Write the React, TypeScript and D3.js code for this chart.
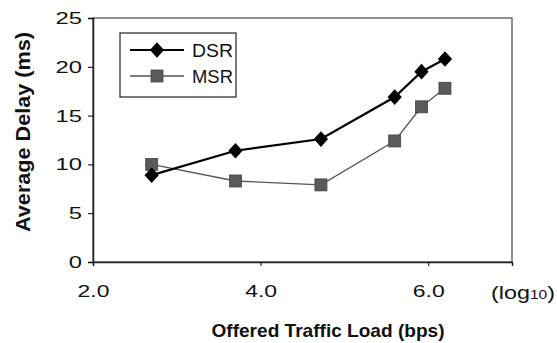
import React, { useEffect, useRef } from 'react';
import * as d3 from 'd3';

const loadLog = [2.7, 3.7, 4.72, 5.6, 5.92, 6.2];
const dsrDelay = [8.9, 11.4, 12.6, 16.9, 19.5, 20.8];
const msrDelay = [10.0, 8.3, 7.9, 12.4, 15.9, 17.8];
const xTicks = [2, 4, 6];
const yTicks = [0, 5, 10, 15, 20, 25];

const W = 557;
const H = 343;
const margin = { top: 18, right: 45, bottom: 81, left: 93 };

export default function App() {
  const ref = useRef<SVGSVGElement>(null);

  useEffect(() => {
    const svg = d3.select(ref.current);
    svg.selectAll('*').remove();
    const font = 'Liberation Sans, Arial, sans-serif';

    // the scanned figure is wider than tall, so text is stretched sideways
    const widen = (sel: any, k: number) => {
      sel.each(function (this: SVGTextElement) {
        const len = this.getComputedTextLength();
        d3.select(this).attr('textLength', len * k).attr('lengthAdjust', 'spacingAndGlyphs');
      });
    };

    const x = d3.scaleLinear().domain([2, 7]).range([margin.left, W - margin.right]);
    const y = d3.scaleLinear().domain([0, 25]).range([H - margin.bottom, margin.top]);

    // plot frame
    svg.append('rect')
      .attr('x', margin.left).attr('y', margin.top)
      .attr('width', W - margin.left - margin.right)
      .attr('height', H - margin.top - margin.bottom)
      .attr('fill', 'none').attr('stroke', '#444').attr('stroke-width', 1.2);

    const xAxis = svg.append('g')
      .attr('transform', `translate(0,${H - margin.bottom})`)
      .call(d3.axisBottom(x).tickValues(xTicks).tickFormat(d3.format('.1f')).tickSize(4).tickPadding(19));
    xAxis.select('.domain').attr('stroke', '#222').attr('stroke-width', 1.5);
    xAxis.selectAll('text').attr('font-family', font).attr('font-size', 17).attr('fill', '#111');
    widen(xAxis.selectAll('text'), 1.35);

    const yAxis = svg.append('g')
      .attr('transform', `translate(${margin.left},0)`)
      .call(d3.axisLeft(y).tickValues(yTicks).tickSize(5).tickPadding(6));
    yAxis.select('.domain').attr('stroke', '#222').attr('stroke-width', 1.5);
    yAxis.selectAll('text').attr('font-family', font).attr('font-size', 17).attr('fill', '#111');
    widen(yAxis.selectAll('text'), 1.4);

    // axis titles
    svg.append('text')
      .attr('x', 328).attr('y', 337)
      .attr('text-anchor', 'middle').attr('font-family', font)
      .attr('font-size', 18.5).attr('font-weight', 'bold').attr('fill', '#111')
      .attr('textLength', 233).attr('lengthAdjust', 'spacingAndGlyphs')
      .text('Offered Traffic Load (bps)');

    svg.append('text')
      .attr('transform', `translate(30,132) rotate(-90)`)
      .attr('text-anchor', 'middle').attr('font-family', font)
      .attr('font-size', 20).attr('font-weight', 'bold').attr('fill', '#111')
      .attr('textLength', 200).attr('lengthAdjust', 'spacingAndGlyphs')
      .text('Average Delay (ms)');

    const lg = svg.append('text')
      .attr('x', 491).attr('y', H - margin.bottom + 37)
      .attr('font-family', font).attr('font-size', 18).attr('fill', '#111')
      .attr('textLength', 64).attr('lengthAdjust', 'spacingAndGlyphs');
    lg.append('tspan').text('(log');
    lg.append('tspan').attr('font-size', 12).text('10');
    lg.append('tspan').text(')');

    const line = d3.line<number>()
      .x((_, i) => x(loadLog[i]))
      .y(d => y(d));

    // MSR
    svg.append('path').datum(msrDelay)
      .attr('d', line).attr('fill', 'none')
      .attr('stroke', '#555').attr('stroke-width', 1.3);
    svg.selectAll('.msr').data(msrDelay).enter().append('rect')
      .attr('x', (_, i) => x(loadLog[i]) - 6).attr('y', d => y(d) - 6)
      .attr('width', 12).attr('height', 12)
      .attr('fill', '#5a5a5a').attr('stroke', '#444').attr('stroke-width', 0.8);

    // DSR
    svg.append('path').datum(dsrDelay)
      .attr('d', line).attr('fill', 'none')
      .attr('stroke', '#000').attr('stroke-width', 2.2);
    const diamond = d3.symbol().type(d3.symbolDiamond2).size(130);
    svg.selectAll('.dsr').data(dsrDelay).enter().append('path')
      .attr('d', diamond)
      .attr('transform', (d, i) => `translate(${x(loadLog[i])},${y(d)}) scale(1,1.1)`)
      .attr('fill', '#000');

    // legend
    const leg = svg.append('g').attr('transform', 'translate(120,33)');
    leg.append('rect').attr('width', 116).attr('height', 64)
      .attr('fill', '#fff').attr('stroke', '#222').attr('stroke-width', 1.2);
    leg.append('line').attr('x1', 10).attr('x2', 64).attr('y1', 17).attr('y2', 17)
      .attr('stroke', '#000').attr('stroke-width', 2.2);
    leg.append('path').attr('d', diamond).attr('transform', 'translate(37,17) scale(1,1.1)').attr('fill', '#000');
    leg.append('line').attr('x1', 10).attr('x2', 64).attr('y1', 43).attr('y2', 43)
      .attr('stroke', '#555').attr('stroke-width', 1.3);
    leg.append('rect').attr('x', 31).attr('y', 37).attr('width', 12).attr('height', 12)
      .attr('fill', '#5a5a5a').attr('stroke', '#444').attr('stroke-width', 0.8);
    leg.append('text').attr('x', 72).attr('y', 24).attr('font-family', font)
      .attr('font-size', 19).attr('fill', '#111')
      .attr('textLength', 41).attr('lengthAdjust', 'spacingAndGlyphs').text('DSR');
    leg.append('text').attr('x', 72).attr('y', 50).attr('font-family', font)
      .attr('font-size', 19).attr('fill', '#111')
      .attr('textLength', 41).attr('lengthAdjust', 'spacingAndGlyphs').text('MSR');
  }, []);

  return (
    <svg ref={ref} width={W} height={H}
      style={{ position: 'absolute', left: 0, top: 0, background: '#fff' }} />
  );
}
